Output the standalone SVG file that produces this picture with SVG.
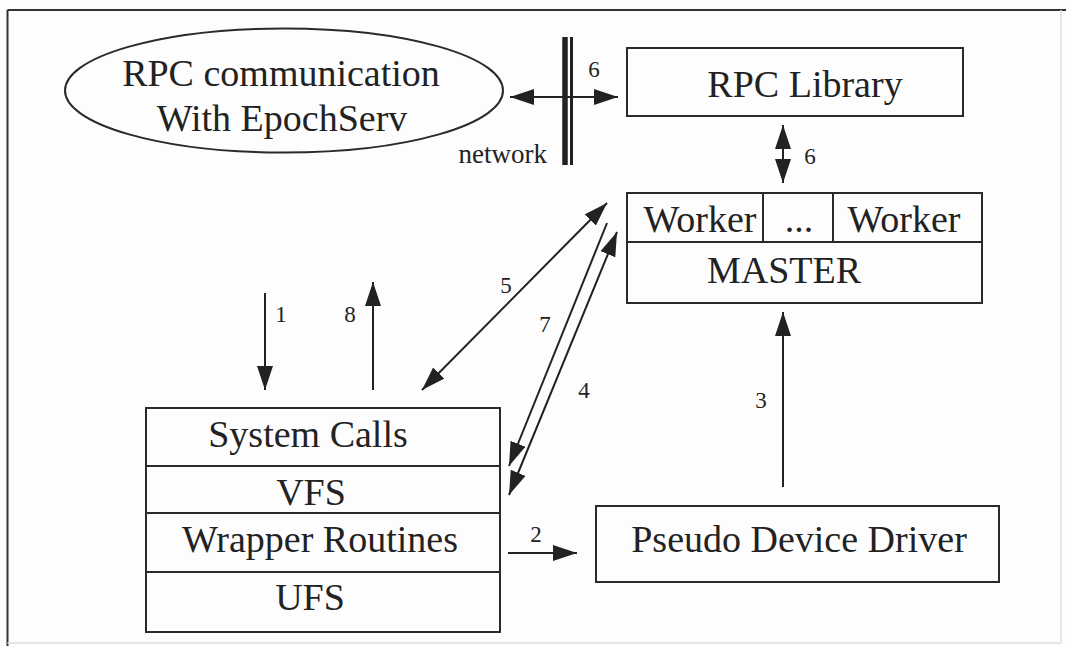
<svg xmlns="http://www.w3.org/2000/svg" width="1066" height="646" viewBox="0 0 1066 646">
  <style>
    .box { fill: none; stroke: #2a2a2a; stroke-width: 2; }
    .lbl { font-family: "Liberation Serif", "Times New Roman", serif; font-size: 38px; fill: #222; text-anchor: middle; }
    .num { font-family: "Liberation Serif", "Times New Roman", serif; font-size: 23px; fill: #222; text-anchor: middle; }
    .wire { fill: none; stroke: #222; stroke-width: 2; }
  </style>
  <defs>
    <marker id="head" viewBox="0 0 24 16" refX="24" refY="8" markerWidth="24" markerHeight="16" markerUnits="userSpaceOnUse" orient="auto-start-reverse">
      <path d="M0,0 L24,8 L0,16 z" fill="#222"/>
    </marker>
  </defs>

  <!-- page background and frame -->
  <rect x="0" y="0" width="1066" height="646" fill="#fdfdfd"/>
  <line x1="7.5" y1="10" x2="1066" y2="10" stroke="#333" stroke-width="2"/>
  <line x1="7.5" y1="10" x2="7.5" y2="646" stroke="#333" stroke-width="2"/>
  <line x1="1061" y1="10" x2="1061" y2="643" stroke="#ddd" stroke-width="1.5"/>
  <line x1="7.5" y1="643" x2="1061" y2="643" stroke="#ddd" stroke-width="1.5"/>

  <!-- external RPC peer -->
  <g id="rpc-comm">
    <ellipse class="box" cx="284" cy="90.5" rx="219" ry="62"/>
    <text class="lbl" x="281" y="86">RPC communication</text>
    <text class="lbl" x="282" y="131">With EpochServ</text>
  </g>

  <!-- network boundary -->
  <g id="network">
    <line x1="565" y1="37" x2="565" y2="165" stroke="#222" stroke-width="5.5"/>
    <line x1="571.5" y1="37" x2="571.5" y2="165" stroke="#222" stroke-width="3"/>
    <text class="num" x="547" y="163" style="text-anchor:end;font-size:27px">network</text>
  </g>

  <g id="rpc-library">
    <rect class="box" x="627" y="48" width="336" height="68"/>
    <text class="lbl" x="805" y="97">RPC Library</text>
  </g>

  <g id="master">
    <rect class="box" x="627" y="193" width="355" height="110"/>
    <line class="box" x1="627" y1="242" x2="982" y2="242"/>
    <line class="box" x1="763" y1="193" x2="763" y2="242"/>
    <line class="box" x1="833" y1="193" x2="833" y2="242"/>
    <text class="lbl" x="700" y="232">Worker</text>
    <text class="lbl" x="799" y="232">...</text>
    <text class="lbl" x="904" y="232">Worker</text>
    <text class="lbl" x="784" y="283">MASTER</text>
  </g>

  <g id="kernel-stack">
    <rect class="box" x="146" y="408" width="354" height="224"/>
    <line class="box" x1="146" y1="466" x2="500" y2="466"/>
    <line class="box" x1="146" y1="513" x2="500" y2="513"/>
    <line class="box" x1="146" y1="572" x2="500" y2="572"/>
    <text class="lbl" x="308" y="447">System Calls</text>
    <text class="lbl" x="311" y="505">VFS</text>
    <text class="lbl" x="320" y="552">Wrapper Routines</text>
    <text class="lbl" x="310" y="610">UFS</text>
  </g>

  <g id="pseudo-driver">
    <rect class="box" x="596" y="506" width="403" height="76"/>
    <text class="lbl" x="799" y="552">Pseudo Device Driver</text>
  </g>

  <!-- message flow -->
  <g id="connectors">
    <line class="wire" x1="510" y1="97" x2="618" y2="97" marker-start="url(#head)" marker-end="url(#head)"/>
    <line class="wire" x1="783" y1="125" x2="783" y2="183" marker-start="url(#head)" marker-end="url(#head)"/>
    <line class="wire" x1="265" y1="293" x2="265" y2="390" marker-end="url(#head)"/>
    <line class="wire" x1="373" y1="390" x2="373" y2="282" marker-end="url(#head)"/>
    <line class="wire" x1="422" y1="390" x2="607" y2="203" marker-start="url(#head)" marker-end="url(#head)"/>
    <line class="wire" x1="607" y1="223" x2="509" y2="466" marker-end="url(#head)"/>
    <line class="wire" x1="509" y1="495" x2="617" y2="232" marker-start="url(#head)" marker-end="url(#head)"/>
    <line class="wire" x1="508" y1="553" x2="577" y2="553" marker-end="url(#head)"/>
    <line class="wire" x1="783" y1="487" x2="783" y2="312" marker-end="url(#head)"/>

    <text class="num" x="594" y="77">6</text>
    <text class="num" x="810" y="164">6</text>
    <text class="num" x="281" y="322">1</text>
    <text class="num" x="350" y="322">8</text>
    <text class="num" x="506" y="293">5</text>
    <text class="num" x="545" y="332">7</text>
    <text class="num" x="584" y="398">4</text>
    <text class="num" x="761" y="408">3</text>
    <text class="num" x="536" y="542">2</text>
  </g>
</svg>
